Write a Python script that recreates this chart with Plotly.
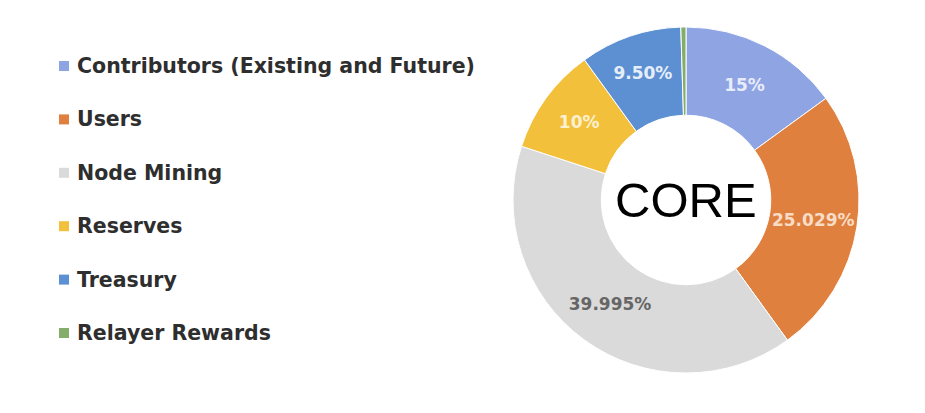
import plotly.graph_objects as go

labels = ["Contributors (Existing and Future)", "Users", "Node Mining",
          "Reserves", "Treasury", "Relayer Rewards"]
values = [15, 25.029, 39.995, 10, 9.5, 0.476]
slice_text = ["15%", "25.029%", "39.995%", "10%", "9.50%", ""]
colors = ["#8FA4E2", "#E0803F", "#DADADA", "#F2C03A", "#5D90D2", "#84AD6C"]
text_colors = ["#E8ECFA", "#F8DCC6", "#666666", "#FCF0D0", "#E6EEF9", "#FFFFFF"]
center_title = "CORE"

# page body has an 8px margin; figure sized to fit the 925x413 window
OFF = 8
W, H = 925 - OFF, 413 - OFF


def px(x):
    return (x - OFF) / W


def py(y):
    return 1 - (y - OFF) / H


fig = go.Figure()
fig.add_trace(go.Pie(
    labels=labels, values=values, text=slice_text,
    textinfo="text", textposition="inside",
    insidetextorientation="horizontal",
    sort=False, direction="clockwise", rotation=0,
    hole=0.49,
    marker=dict(colors=colors, line=dict(color="#FFFFFF", width=1)),
    insidetextfont=dict(family="DejaVu Sans", size=17, weight="bold", color=text_colors),
    domain=dict(x=[px(513), px(859)], y=[py(373), py(27)]),
    showlegend=False,
    hoverinfo="label+percent",
))

fig.add_annotation(
    text=center_title, x=px(686), y=py(200), xref="paper", yref="paper",
    showarrow=False, font=dict(family="Liberation Sans", size=49, color="#000000"),
    xanchor="center", yanchor="middle",
)

# Manual legend built from labels / colors
y0, dy = 66, 53.4
for i, (lab, col) in enumerate(zip(labels, colors)):
    yc = y0 + i * dy
    fig.add_shape(type="rect", xref="paper", yref="paper",
                  x0=px(59), x1=px(69), y0=py(yc + 5), y1=py(yc - 5),
                  fillcolor=col, line=dict(width=0))
    fig.add_annotation(text=lab, x=px(75), y=py(yc), xref="paper", yref="paper",
                       showarrow=False, xanchor="left", yanchor="middle",
                       font=dict(family="DejaVu Sans", size=20.5, weight="bold",
                                 color="#2E2E2E"))

fig.update_layout(
    width=W, height=H,
    margin=dict(l=0, r=0, t=0, b=0),
    paper_bgcolor="#FFFFFF", plot_bgcolor="#FFFFFF",
)
fig.write_html("out.html")
